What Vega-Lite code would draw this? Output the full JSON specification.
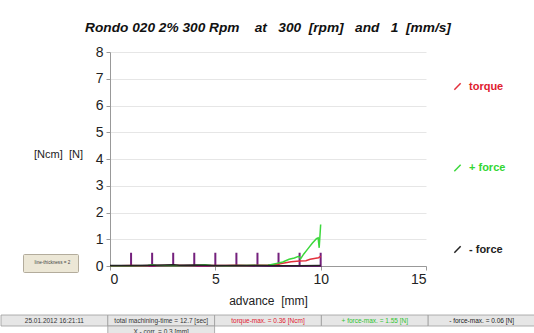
{
  "$schema": "https://vega.github.io/schema/vega-lite/v6.json",
  "padding": {"left": 0, "top": 21, "right": 0, "bottom": 0},
  "background": "white",
  "config": {
    "font": "Liberation Sans",
    "view": {"stroke": null}
  },
  "datasets": {
    "lines": [
      {"series": "torque", "x": 0, "y": 0.01},
      {"series": "torque", "x": 0.5, "y": 0.01},
      {"series": "torque", "x": 1, "y": 0.02},
      {"series": "torque", "x": 1.5, "y": 0.01},
      {"series": "torque", "x": 2, "y": 0.02},
      {"series": "torque", "x": 2.5, "y": 0.02},
      {"series": "torque", "x": 3, "y": 0.03},
      {"series": "torque", "x": 3.5, "y": 0.02},
      {"series": "torque", "x": 4, "y": 0.02},
      {"series": "torque", "x": 4.5, "y": 0.02},
      {"series": "torque", "x": 5, "y": 0.02},
      {"series": "torque", "x": 5.5, "y": 0.02},
      {"series": "torque", "x": 6, "y": 0.03},
      {"series": "torque", "x": 6.5, "y": 0.02},
      {"series": "torque", "x": 7, "y": 0.03},
      {"series": "torque", "x": 7.5, "y": 0.04},
      {"series": "torque", "x": 7.9, "y": 0.06},
      {"series": "torque", "x": 8.2, "y": 0.1},
      {"series": "torque", "x": 8.6, "y": 0.16},
      {"series": "torque", "x": 9.0, "y": 0.19},
      {"series": "torque", "x": 9.3, "y": 0.2},
      {"series": "torque", "x": 9.5, "y": 0.25},
      {"series": "torque", "x": 9.7, "y": 0.28},
      {"series": "torque", "x": 9.9, "y": 0.31},
      {"series": "torque", "x": 10, "y": 0.36},
      {"series": "+ force", "x": 0, "y": 0.01},
      {"series": "+ force", "x": 1, "y": 0.01},
      {"series": "+ force", "x": 1.8, "y": 0.02},
      {"series": "+ force", "x": 2, "y": 0.05},
      {"series": "+ force", "x": 2.2, "y": 0.02},
      {"series": "+ force", "x": 3, "y": 0.01},
      {"series": "+ force", "x": 4, "y": 0.02},
      {"series": "+ force", "x": 4.5, "y": 0.05},
      {"series": "+ force", "x": 4.8, "y": 0.02},
      {"series": "+ force", "x": 5.5, "y": 0.01},
      {"series": "+ force", "x": 6.5, "y": 0.02},
      {"series": "+ force", "x": 7.5, "y": 0.03},
      {"series": "+ force", "x": 7.96, "y": 0.1},
      {"series": "+ force", "x": 8.2, "y": 0.15},
      {"series": "+ force", "x": 8.5, "y": 0.25},
      {"series": "+ force", "x": 8.75, "y": 0.3},
      {"series": "+ force", "x": 8.95, "y": 0.36},
      {"series": "+ force", "x": 9.05, "y": 0.27},
      {"series": "+ force", "x": 9.2, "y": 0.45},
      {"series": "+ force", "x": 9.4, "y": 0.65},
      {"series": "+ force", "x": 9.6, "y": 0.85},
      {"series": "+ force", "x": 9.8, "y": 1.02},
      {"series": "+ force", "x": 9.88, "y": 1.05},
      {"series": "+ force", "x": 9.93, "y": 0.68},
      {"series": "+ force", "x": 10, "y": 1.55},
      {"series": "- force", "x": 0, "y": 0.02},
      {"series": "- force", "x": 1, "y": 0.02},
      {"series": "- force", "x": 2, "y": 0.03},
      {"series": "- force", "x": 2.6, "y": 0.04},
      {"series": "- force", "x": 3, "y": 0.05},
      {"series": "- force", "x": 3.3, "y": 0.03},
      {"series": "- force", "x": 4, "y": 0.04},
      {"series": "- force", "x": 4.5, "y": 0.03},
      {"series": "- force", "x": 5, "y": 0.02},
      {"series": "- force", "x": 6, "y": 0.02},
      {"series": "- force", "x": 7, "y": 0.02},
      {"series": "- force", "x": 8, "y": 0.01},
      {"series": "- force", "x": 9, "y": 0.01},
      {"series": "- force", "x": 10, "y": 0.02}
    ],
    "purple": [
      {"i": 0, "x": 0, "y": 0},
      {"i": 1, "x": 1, "y": 0},
      {"i": 2, "x": 1, "y": 0.5},
      {"i": 3, "x": 1, "y": 0},
      {"i": 4, "x": 2, "y": 0},
      {"i": 5, "x": 2, "y": 0.5},
      {"i": 6, "x": 2, "y": 0},
      {"i": 7, "x": 3, "y": 0},
      {"i": 8, "x": 3, "y": 0.5},
      {"i": 9, "x": 3, "y": 0},
      {"i": 10, "x": 4, "y": 0},
      {"i": 11, "x": 4, "y": 0.5},
      {"i": 12, "x": 4, "y": 0},
      {"i": 13, "x": 5, "y": 0},
      {"i": 14, "x": 5, "y": 0.5},
      {"i": 15, "x": 5, "y": 0},
      {"i": 16, "x": 6, "y": 0},
      {"i": 17, "x": 6, "y": 0.5},
      {"i": 18, "x": 6, "y": 0},
      {"i": 19, "x": 7, "y": 0},
      {"i": 20, "x": 7, "y": 0.5},
      {"i": 21, "x": 7, "y": 0},
      {"i": 22, "x": 8, "y": 0},
      {"i": 23, "x": 8, "y": 0.5},
      {"i": 24, "x": 8, "y": 0},
      {"i": 25, "x": 9, "y": 0},
      {"i": 26, "x": 9, "y": 0.5},
      {"i": 27, "x": 9, "y": 0},
      {"i": 28, "x": 10, "y": 0},
      {"i": 29, "x": 10, "y": 0.5}
    ],
    "status": [
      {"col": "c1", "row": "r1", "label": "25.01.2012 16:21:11", "kind": "info"},
      {"col": "c2", "row": "r1", "label": "total machining-time = 12.7 [sec]", "kind": "info"},
      {"col": "c3", "row": "r1", "label": "torque-max. = 0.36 [Ncm]", "kind": "torque"},
      {"col": "c4", "row": "r1", "label": "+ force-max. = 1.55 [N]", "kind": "+ force"},
      {"col": "c5", "row": "r1", "label": "- force-max. = 0.06 [N]", "kind": "- force"},
      {"col": "c2", "row": "r2", "label": "X - corr. = 0.3 [mm]", "kind": "info"}
    ]
  },
  "vconcat": [
    {
      "width": 316,
      "height": 214,
      "title": {
        "text": "Rondo 020 2% 300 Rpm\u00a0\u00a0\u00a0 at\u00a0\u00a0 300\u00a0 [rpm]\u00a0\u00a0 and\u00a0\u00a0 1\u00a0 [mm/s]",
        "fontSize": 13.7,
        "fontStyle": "italic",
        "fontWeight": "bold",
        "color": "#111",
        "anchor": "middle",
        "offset": 10
      },
      "encoding": {
        "x": {
          "field": "x",
          "type": "quantitative",
          "scale": {"domain": [0, 15], "nice": false},
          "axis": {
            "title": "advance\u00a0\u00a0[mm]",
            "titleFontSize": 12,
            "titleFontWeight": "normal",
            "titleColor": "#222",
            "titlePadding": 9,
            "values": [0, 5, 10, 15],
            "tickCount": 20,
            "format": "d",
            "grid": false,
            "labelFontSize": 14,
            "labelColor": "#222",
            "domainColor": "#999",
            "tickColor": "#999",
            "tickSize": 4
          }
        },
        "y": {
          "field": "y",
          "type": "quantitative",
          "scale": {"domain": [0, 8], "nice": false},
          "axis": {
            "title": "[Ncm]\u00a0\u00a0[N]",
            "titleAngle": 0,
            "titleX": -52,
            "titleY": 102,
            "titleAlign": "center",
            "titleBaseline": "middle",
            "titleFontSize": 11,
            "titleFontWeight": "normal",
            "titleColor": "#222",
            "values": [0, 1, 2, 3, 4, 5, 6, 7, 8],
            "tickCount": 20,
            "format": "d",
            "labelOverlap": false,
            "grid": true,
            "gridColor": "#e6e6e6",
            "labelFontSize": 14,
            "labelColor": "#222",
            "labelPadding": 3,
            "domainColor": "#999",
            "tickColor": "#999",
            "tickSize": 4
          }
        }
      },
      "layer": [
        {
          "data": {"name": "purple"},
          "mark": {"type": "line", "color": "#74207c"},
          "encoding": {
            "order": {"field": "i"},
            "strokeWidth": {
              "datum": "line-thickness = 2",
              "type": "ordinal",
              "scale": {"range": [2, 2]},
              "legend": {
                "orient": "none",
                "legendX": 22,
                "legendY": 202,
                "title": null,
                "fillColor": "#ece7d6",
                "strokeColor": "#b3ac9c",
                "padding": 7,
                "cornerRadius": 1,
                "symbolSize": 0,
                "symbolOpacity": 0,
                "symbolStrokeWidth": 0,
                "labelOffset": 0,
                "labelFontSize": 4.6,
                "labelColor": "#444"
              }
            }
          }
        },
        {
          "data": {"name": "lines"},
          "mark": {"type": "line", "strokeWidth": 1.5},
          "encoding": {
            "color": {
              "field": "series",
              "type": "nominal",
              "scale": {
                "domain": ["torque", "+ force", "- force"],
                "range": ["#e2303c", "#3cd83c", "#222222"]
              },
              "legend": {
                "orient": "none",
                "legendX": 342,
                "legendY": 29,
                "title": null,
                "padding": 0,
                "symbolType": "M-1,1L1,-1",
                "symbolSize": 40,
                "symbolStrokeWidth": 1.5,
                "labelFontSize": 11,
                "labelFontWeight": "bold",
                "labelOffset": 6,
                "rowPadding": 68.5,
                "encode": {
                  "labels": {
                    "update": {
                      "fill": {"signal": "datum.value === 'torque' ? '#e0202e' : datum.value === '+ force' ? '#33d633' : '#222222'"}
                    }
                  }
                }
              }
            }
          }
        }
      ]
    },
    {
      "width": 534,
      "height": 22,
      "data": {"name": "status"},
      "encoding": {
        "x": {"field": "col", "type": "nominal", "axis": null, "scale": {"paddingInner": 0, "paddingOuter": 0}},
        "y": {"field": "row", "type": "nominal", "axis": null, "scale": {"paddingInner": 0, "paddingOuter": 0}}
      },
      "layer": [
        {"mark": {"type": "rect", "fill": "#e6e6e6", "stroke": "#9c9c9c", "strokeWidth": 0.8}},
        {
          "mark": {"type": "text", "fontSize": 6.5},
          "encoding": {
            "text": {"field": "label"},
            "color": {
              "field": "kind",
              "type": "nominal",
              "scale": {"domain": ["info", "torque", "+ force", "- force"], "range": ["#333333", "#e0202e", "#2ec42e", "#222222"]},
              "legend": null
            }
          }
        }
      ]
    }
  ],
  "spacing": 49,
  "bounds": "flush",
  "center": true,
  "resolve": {"scale": {"color": "independent"}, "legend": {"color": "independent"}}
}
